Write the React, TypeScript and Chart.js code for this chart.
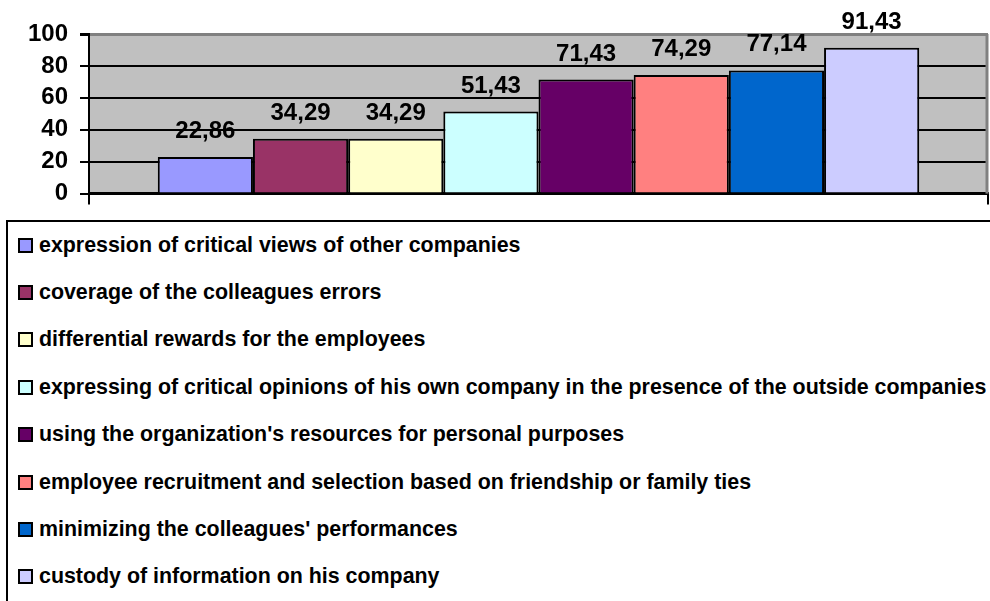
import React, { useEffect, useRef } from "react";
import { Chart, registerables } from "chart.js";

Chart.register(...registerables);

const categories: string[] = [""];
const seriesNames: string[] = [
  "expression of critical views of other companies",
  "coverage of the colleagues errors",
  "differential rewards for the employees",
  "expressing of critical opinions of his own company in the presence of the outside companies",
  "using the organization's resources for personal purposes",
  "employee recruitment and selection based on friendship or family ties",
  "minimizing the colleagues' performances",
  "custody of information on his company",
];
const seriesValues: number[] = [22.86, 34.29, 34.29, 51.43, 71.43, 74.29, 77.14, 91.43];
const seriesColors: string[] = [
  "#9999FF",
  "#993366",
  "#FFFFCC",
  "#CCFFFF",
  "#660066",
  "#FF8080",
  "#0066CC",
  "#CCCCFF",
];
const yTicks: number[] = [0, 20, 40, 60, 80, 100];

const FONT = '"Liberation Sans", Arial, Helvetica, sans-serif';

const fmt = (v: number) => v.toFixed(2).replace(".", ",");

const bgPlugin = {
  id: "plotBg",
  beforeDraw(chart: any) {
    const { ctx, chartArea } = chart;
    ctx.save();
    ctx.fillStyle = "#C0C0C0";
    ctx.fillRect(chartArea.left, chartArea.top, chartArea.right - chartArea.left, chartArea.bottom - chartArea.top);
    ctx.restore();
  },
  afterDraw(chart: any) {
    const { ctx, chartArea } = chart;
    ctx.save();
    ctx.strokeStyle = "#808080";
    ctx.lineWidth = 3;
    ctx.beginPath();
    ctx.moveTo(chartArea.right - 1, chartArea.top);
    ctx.lineTo(chartArea.right - 1, chartArea.bottom);
    ctx.stroke();
    ctx.restore();
  },
};

const labelPlugin = {
  id: "valueLabels",
  afterDatasetsDraw(chart: any) {
    const { ctx } = chart;
    ctx.save();
    ctx.font = `bold 24px ${FONT}`;
    ctx.fillStyle = "#000";
    ctx.textAlign = "center";
    ctx.textBaseline = "alphabetic";
    chart.data.datasets.forEach((ds: any, i: number) => {
      const meta = chart.getDatasetMeta(i);
      meta.data.forEach((bar: any, j: number) => {
        ctx.fillText(fmt(ds.data[j]), bar.x, bar.y - 19);
      });
    });
    ctx.restore();
  },
};

export default function App() {
  const ref = useRef<HTMLCanvasElement>(null);

  useEffect(() => {
    if (!ref.current) return;
    const chart = new Chart(ref.current, {
      type: "bar",
      data: {
        labels: categories,
        datasets: seriesNames.map((name, i) => ({
          label: name,
          data: [seriesValues[i]],
          backgroundColor: seriesColors[i],
          borderColor: "#000",
          borderWidth: 2,
          categoryPercentage: 0.847,
          barPercentage: 1,
        })),
      },
      options: {
        responsive: false,
        animation: false,
        layout: { padding: { left: 0, right: 2, top: 34, bottom: 0 } },
        plugins: {
          legend: { display: false },
          tooltip: { enabled: false },
        },
        scales: {
          x: {
            grid: {
              display: true,
              offset: true,
              drawOnChartArea: false,
              drawTicks: true,
              tickLength: 11,
              color: "#000",
              lineWidth: 2,
            },
            border: { display: true, color: "#000", width: 3 },
            ticks: { display: false },
            afterFit: (s: any) => {
              s.height = 23;
            },
          },
          y: {
            min: 0,
            max: 100,
            afterBuildTicks: (s: any) => {
              s.ticks = yTicks.map((v) => ({ value: v }));
            },
            grid: {
              color: (c: any) => (c.tick && c.tick.value === 100 ? "#808080" : "#000"),
              lineWidth: (c: any) => (c.tick && c.tick.value === 100 ? 3 : 2),
              tickColor: "#000",
              tickLength: 9,
            },
            border: { display: true, color: "#000", width: 2 },
            ticks: {
              color: "#000",
              padding: 12,
              font: { family: FONT, size: 24, weight: "bold" },
            },
            afterFit: (s: any) => {
              s.width = 89;
            },
          },
        },
      },
      plugins: [bgPlugin, labelPlugin],
    });
    return () => chart.destroy();
  }, []);

  const rowTop = 245;
  const rowGap = 47.4;

  return (
    <div style={{ position: "absolute", left: 0, top: 0, width: 990, height: 601, overflow: "hidden", background: "#fff" }}>
      <canvas ref={ref} width={990} height={220} style={{ position: "absolute", left: 0, top: 0 }} />
      <div
        style={{
          position: "absolute",
          left: 6,
          top: 220,
          width: 1000,
          height: 400,
          borderLeft: "2px solid #000",
          borderTop: "2px solid #000",
          boxSizing: "border-box",
        }}
      />
      {seriesNames.map((name, i) => (
        <div
          key={name}
          style={{
            position: "absolute",
            left: 18,
            top: rowTop + i * rowGap - 15,
            height: 30,
            display: "flex",
            alignItems: "center",
            whiteSpace: "nowrap",
            fontFamily: FONT,
            fontWeight: "bold",
            fontSize: 21.4,
            color: "#000",
          }}
        >
          <span
            style={{
              display: "inline-block",
              width: 15,
              height: 15,
              boxSizing: "border-box",
              border: "2px solid #000",
              background: seriesColors[i],
              marginRight: 6,
              flex: "none",
            }}
          />
          <span>{name}</span>
        </div>
      ))}
    </div>
  );
}
